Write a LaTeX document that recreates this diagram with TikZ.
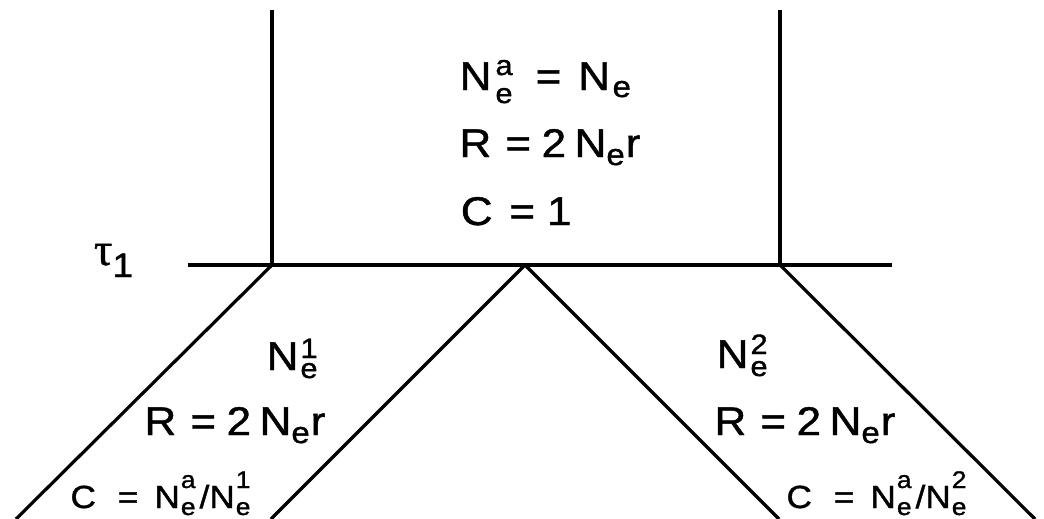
\documentclass[tikz,border=0pt]{standalone}
\usepackage{fontspec}
\setmainfont[FakeStretch=1.1,FakeBold=1.2]{Liberation Sans}
\newfontfamily\taufont[FakeBold=1]{Liberation Serif}
\newcommand\fbig{\fontsize{40}{40}\selectfont}
\newcommand\fsa{\fontsize{28}{28}\selectfont}
\newcommand\fsb{\fontsize{30}{30}\selectfont}
\newcommand\fsml{\fontsize{32}{32}\selectfont}
\newcommand\fsd{\fontsize{24}{24}\selectfont}
% stacked super/sub script: {sup}{sub}{raise}{lower}
\newcommand\stk[4]{\makebox[0pt][l]{\raisebox{#3}{#1}}\raisebox{#4}{#2}}
\newcommand\Rline{\fbig R\hspace{14.1pt}=\hspace{10.6pt}2\hspace{8.5pt}N\raisebox{-8pt}{\fsb e}\hspace{1pt}r}
\newcommand\Cline[1]{\fsml C\hspace{22pt}=\hspace{16pt}N\hspace{1pt}\stk{\fsd a}{\fsd e}{20pt}{-7pt}\hspace{4pt}/N\hspace{1pt}\stk{\fsd #1}{\fsd e}{20pt}{-7pt}}
\begin{document}
\begin{tikzpicture}[x=1pt,y=-1pt,
  edge/.style={line width=3.2pt, line cap=butt},
  lbl/.style={anchor=base west, inner sep=0pt, outer sep=0pt}]
\useasboundingbox (0,0) rectangle (1044,519);
% frame coordinates
\coordinate (lt) at (272,10);
\coordinate (lj) at (272,265);
\coordinate (rt) at (780,10);
\coordinate (rj) at (780,265);
\coordinate (hl) at (188,265);
\coordinate (hr) at (892,265);
\coordinate (ap) at (525,265);
\coordinate (lbo) at (16,519);
\coordinate (lbi) at (271,519);
\coordinate (rbi) at (779,519);
\coordinate (rbo) at (1035,519);
\draw[edge] (lt) -- (lj);
\draw[edge] (rt) -- (rj);
\draw[edge] (hl) -- (hr);
\draw[edge] (lj) -- (lbo);
\draw[edge] (ap) -- (lbi);
\draw[edge] (ap) -- (rbi);
\draw[edge] (rj) -- (rbo);
% top labels
\node[lbl] (t1) at (459.7,90) {\fbig N\hspace{4pt}\stk{\fsa a}{\fsa e}{15pt}{-13pt}\hspace{23pt}=\hspace{17pt}N\hspace{2.5pt}\raisebox{-7pt}{\fsb e}};
\node[lbl] (t2) at (459.5,157) {\Rline};
\node[lbl] (t3) at (460.8,225) {\fbig C\hspace{16.8pt}=\hspace{12pt}1};
% tau
\node[lbl] (tau) at (94,265) {\taufont\fontsize{46}{46}\selectfont τ\hspace{0pt}\raisebox{-12pt}{\fontsize{34}{34}\selectfont\rmfamily\normalfont 1}};
% left branch
\node[lbl] (l1) at (266.7,370) {\fbig N\hspace{2pt}\stk{\fsa 1}{\fsa e}{12pt}{-8pt}};
\node[lbl] (l2) at (144.5,435) {\Rline};
\node[lbl] (l3) at (70.5,508) {\Cline{1}};
% right branch
\node[lbl] (r1) at (716.7,368) {\fbig N\hspace{2pt}\stk{\fsa 2}{\fsa e}{14pt}{-8pt}};
\node[lbl] (r2) at (714.5,435) {\Rline};
\node[lbl] (r3) at (786.5,508) {\Cline{2}};
\end{tikzpicture}
\end{document}
